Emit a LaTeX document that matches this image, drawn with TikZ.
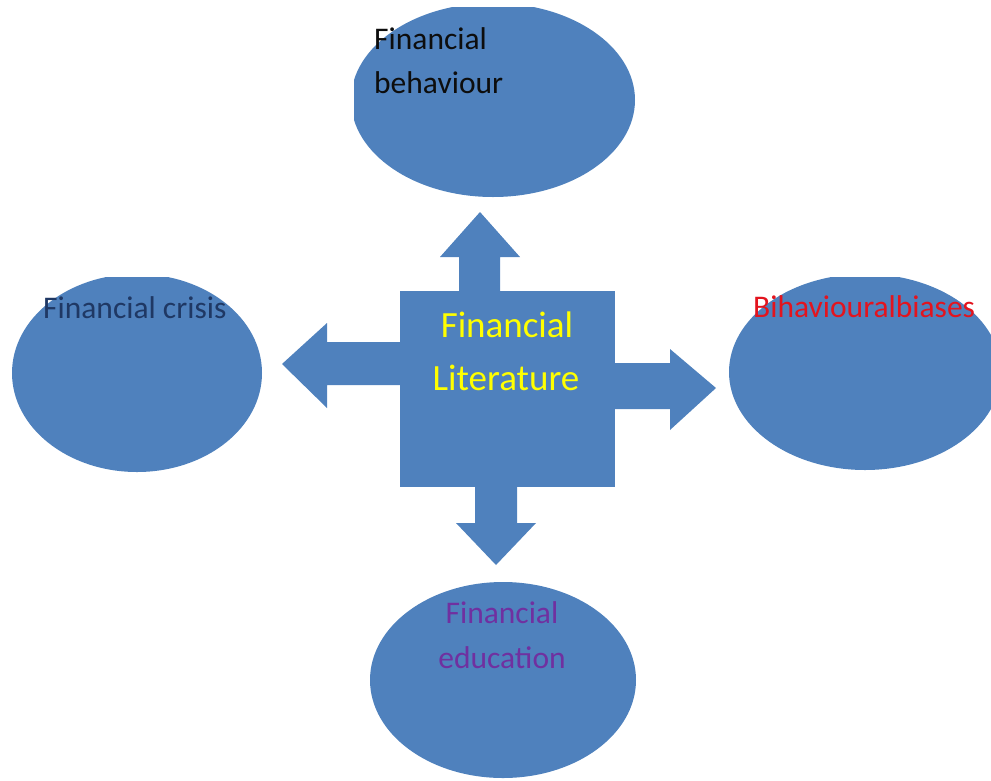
\documentclass[tikz,border=0pt]{standalone}
\usepackage{fontspec}
\setmainfont{Carlito}
\definecolor{shapeblue}{HTML}{4F81BD}
\definecolor{txtblack}{HTML}{0D0D0D}
\definecolor{txtnavy}{HTML}{1F3864}
\definecolor{txtred}{HTML}{E3141E}
\definecolor{txtpurple}{HTML}{7030A0}
\definecolor{txtyellow}{HTML}{FFFF00}
\begin{document}
\begin{tikzpicture}[x=1pt,y=-1pt,
  lbl/.style={inner sep=0pt,font=\fontsize{31.5}{38}\selectfont},
  biglbl/.style={inner sep=0pt,font=\fontsize{37}{45}\selectfont,text=txtyellow,anchor=base},
  blockarrow/.style={fill=shapeblue,draw=none}]
\useasboundingbox (0,0) rectangle (991,780);
% ellipses (clipped as in the reference)
\begin{scope}
  \clip (354,7) rectangle (991,780);
  \fill[shapeblue] (493,100) ellipse [x radius=142, y radius=97];
\end{scope}
\begin{scope}
  \clip (10,277) rectangle (991,780);
  \fill[shapeblue] (137,373) ellipse [x radius=125, y radius=99];
\end{scope}
\begin{scope}
  \clip (729,277) rectangle (991,780);
  \fill[shapeblue] (865,372) ellipse [x radius=136, y radius=98];
\end{scope}
\begin{scope}
  \clip (370,582) rectangle (991,780);
  \fill[shapeblue] (503,680) ellipse [x radius=133, y radius=98];
\end{scope}
\coordinate (eTop) at (493,100);
\coordinate (eLeft) at (137,373);
\coordinate (eRight) at (865,372);
\coordinate (eBottom) at (503,680);
% central square
\node[fill=shapeblue,minimum width=215pt,minimum height=196pt,inner sep=0pt,anchor=north west] (core) at (400,291) {};
% block arrows
\fill[blockarrow] (459,291) -- (459,257) -- (440,257) -- (480,212) -- (520,257) -- (500,257) -- (500,291) -- cycle;
\fill[blockarrow] (400,342) -- (327,342) -- (327,323) -- (282,364) -- (327,408) -- (327,385) -- (400,385) -- cycle;
\fill[blockarrow] (615,363) -- (670,363) -- (670,349) -- (716,388) -- (670,430) -- (670,409) -- (615,409) -- cycle;
\fill[blockarrow] (475,487) -- (475,523) -- (456,523) -- (496,565) -- (536,523) -- (517,523) -- (517,487) -- cycle;
% labels
\node[lbl,text=txtblack,anchor=base west] (behav1) at (374,49) {Financial};
\node[lbl,text=txtblack,anchor=base west] (behav2) at (374,93) {behaviour};
\node[lbl,text=txtnavy,anchor=base west] (crisis) at (43,318) {Financial crisis};
\node[lbl,text=txtred,anchor=base west] (bias) at (753,317) {Bihaviouralbiases};
\node[lbl,text=txtpurple,anchor=base] (edu1) at (502,623) {Financial};
\node[lbl,text=txtpurple,anchor=base] (edu2) at (502,668) {education};
\node[biglbl] (lit1) at (507,337) {Financial};
\node[biglbl] (lit2) at (506,390) {Literature};
\end{tikzpicture}
\end{document}
